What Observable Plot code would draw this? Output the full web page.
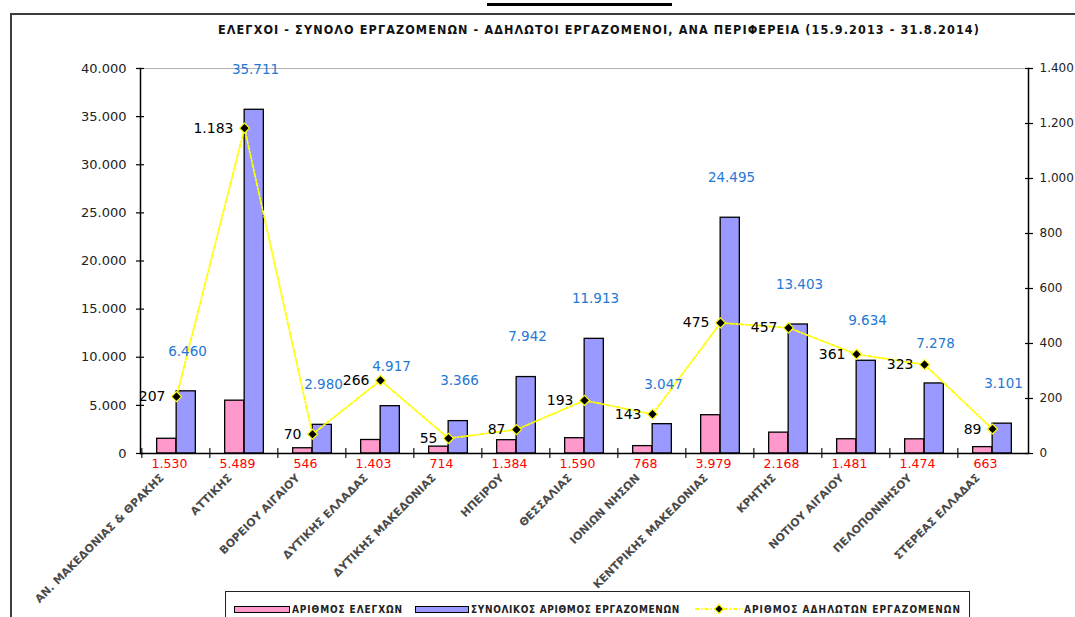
<!DOCTYPE html>
<html><head><meta charset="utf-8">
<script src="https://cdn.jsdelivr.net/npm/d3@7"></script>
<script src="https://cdn.jsdelivr.net/npm/@observablehq/plot@0.6"></script>
<style>
html,body{margin:0;padding:0;background:#fff;overflow:hidden;}
#wrap{position:relative;width:1075px;height:617px;overflow:hidden;font-family:"DejaVu Sans",sans-serif;background:#fff;}
#frame{position:absolute;left:10px;top:13px;width:1200px;height:800px;border:2px solid #3c3c3c;box-sizing:border-box;}
#topbar{position:absolute;left:487px;top:3px;width:185px;height:3px;background:#000;}
#chart{position:absolute;left:0;top:0;}
#title{position:absolute;left:218px;top:22px;white-space:nowrap;font-family:"DejaVu Sans Condensed","DejaVu Sans",sans-serif;font-weight:bold;font-size:12.5px;line-height:16px;color:#111;}
#legendBox{position:absolute;left:225px;top:591px;width:745px;height:60px;border:1.5px solid #222;box-sizing:border-box;}
.ltext{position:absolute;top:604px;white-space:nowrap;font-family:"DejaVu Sans Condensed","DejaVu Sans",sans-serif;font-weight:bold;font-size:10px;line-height:12px;color:#222;}
.lsw{position:absolute;top:606px;height:5px;border:1px solid #000;box-sizing:content-box;}
</style>
</head><body>
<div id="wrap">
  <div id="frame"></div>
  <div id="topbar"></div>
  <div id="chart"></div>
  <span id="title"></span>
  <div id="legendBox"></div>
</div>
<script>
// ---- data ----
const titleText = "ΕΛΕΓΧΟΙ - ΣΥΝΟΛΟ ΕΡΓΑΖΟΜΕΝΩΝ - ΑΔΗΛΩΤΟΙ ΕΡΓΑΖΟΜΕΝΟΙ, ΑΝΑ ΠΕΡΙΦΕΡΕΙΑ (15.9.2013 - 31.8.2014)";
const regions = ["ΑΝ. ΜΑΚΕΔΟΝΙΑΣ & ΘΡΑΚΗΣ","ΑΤΤΙΚΗΣ","ΒΟΡΕΙΟΥ ΑΙΓΑΙΟΥ","ΔΥΤΙΚΗΣ ΕΛΛΑΔΑΣ","ΔΥΤΙΚΗΣ ΜΑΚΕΔΟΝΙΑΣ","ΗΠΕΙΡΟΥ","ΘΕΣΣΑΛΙΑΣ","ΙΟΝΙΩΝ ΝΗΣΩΝ","ΚΕΝΤΡΙΚΗΣ ΜΑΚΕΔΟΝΙΑΣ","ΚΡΗΤΗΣ","ΝΟΤΙΟΥ ΑΙΓΑΙΟΥ","ΠΕΛΟΠΟΝΝΗΣΟΥ","ΣΤΕΡΕΑΣ ΕΛΛΑΔΑΣ"];
const checks = [1530,5489,546,1403,714,1384,1590,768,3979,2168,1481,1474,663];
const employees = [6460,35711,2980,4917,3366,7942,11913,3047,24495,13403,9634,7278,3101];
const undeclared = [207,1183,70,266,55,87,193,143,475,457,361,323,89];
const leftTicks = [0,5000,10000,15000,20000,25000,30000,35000,40000];
const rightTicks = [0,200,400,600,800,1000,1200,1400];
const seriesNames = ["ΑΡΙΘΜΟΣ ΕΛΕΓΧΩΝ","ΣΥΝΟΛΙΚΟΣ ΑΡΙΘΜΟΣ ΕΡΓΑΖΟΜΕΝΩΝ","ΑΡΙΘΜΟΣ ΑΔΗΛΩΤΩΝ ΕΡΓΑΖΟΜΕΝΩΝ"];
const colors = {checks:"#ff99cc", employees:"#9999ff", undeclared:"#ffff00"};

// ---- layout ----
const W = 1075, H = 617, mL = 140, mR = 47, mT = 68, mB = 164;
const bw = (W - mL - mR) / regions.length;
const barW = 19.5;
const leftMax = 40000, rightMax = 1400, k = leftMax / rightMax;
const tickHalf = leftMax * 0.013; // half-length of the crossing category ticks, in y units

const loc = d3.formatLocale({decimal:",", thousands:".", grouping:[3], currency:["","€"]});
const fmt = loc.format(",d");
const blank = () => "";

const data = regions.map((r,i)=>({region:r, checks:checks[i], employees:employees[i], undeclared:undeclared[i]}));

const chart = Plot.plot({
  width: W, height: H,
  marginLeft: mL, marginRight: mR, marginTop: mT, marginBottom: mB,
  x: {type:"band", domain: regions, padding: 0, axis: null},
  y: {domain: [0, leftMax], axis: null},
  style: {fontFamily: "DejaVu Sans", background: "transparent", overflow: "visible"},
  marks: [
    Plot.ruleY([leftMax], {stroke:"#b4b4b4", strokeWidth:1}),
    Plot.barY(data, {x:"region", y:"checks", fill:colors.checks, stroke:"#000", strokeWidth:1.3, insetLeft: bw/2 - barW, insetRight: bw/2}),
    Plot.barY(data, {x:"region", y:"employees", fill:colors.employees, stroke:"#000", strokeWidth:1.3, insetLeft: bw/2, insetRight: bw/2 - barW}),
    Plot.line(data, {x:"region", y: d => d.undeclared * k, stroke:colors.undeclared, strokeWidth:1.8, strokeDasharray:"4,2,1.5,2"}),
    Plot.dot(data, {x:"region", y: d => d.undeclared * k, symbol:"diamond2", r:4.5, fill:"#000", stroke:colors.undeclared, strokeWidth:1.2}),
    Plot.ruleY([0], {stroke:"#000", strokeWidth:1.5}),
    Plot.frame({anchor:"left", stroke:"#000", strokeWidth:1.5}),
    Plot.frame({anchor:"right", stroke:"#000", strokeWidth:1.5}),
    // crossing tick marks (no labels)
    Plot.axisY({anchor:"left", ticks:leftTicks, tickSize:8, dx:4, tickFormat:blank, stroke:"#000", strokeWidth:1.2, label:null}),
    Plot.axisY({anchor:"right", ticks:rightTicks.map(v=>v*k), tickSize:8, dx:-4, tickFormat:blank, stroke:"#000", strokeWidth:1.2, label:null}),
    // category boundary ticks: thin slivers at the left edge of each band
    Plot.barY(regions, {x:d=>d, y1:-tickHalf, y2:tickHalf, insetLeft:-0.7, insetRight:bw - 0.7, fill:"#000"}),
    // tick labels
    Plot.axisY({anchor:"left", ticks:leftTicks, tickSize:0, tickPadding:14, tickFormat:fmt, fontSize:13, fill:"#222", label:null}),
    Plot.axisY({anchor:"right", ticks:rightTicks.map(v=>v*k), tickSize:0, tickPadding:11, tickFormat:d=>fmt(Math.round(d/k)), fontSize:12, fill:"#222", label:null}),
    // data labels
    Plot.text(data, {x:"region", frameAnchor:"bottom", text:d=>fmt(d.checks), fill:"#ff0000", fontSize:12.5, dx:-7, dy:14.5}),
    Plot.text(data, {x:"region", y:"employees", text:d=>fmt(d.employees), fill:"#1f78d4", fontSize:13.5, dx:11, dy:-40}),
    Plot.text(data, {x:"region", y:d=>d.undeclared*k, text:d=>fmt(d.undeclared), fill:"#000", fontSize:14, textAnchor:"end", dx:-11}),
    Plot.text(regions, {x:d=>d, frameAnchor:"bottom", text:d=>d, rotate:-45, textAnchor:"end", dx:-12, dy:25, fontSize:11, fontWeight:"bold", fill:"#4a4a4a"})
  ]
});
document.getElementById("chart").appendChild(chart);

// ---- title ----
function fitWidth(el, target){
  el.style.letterSpacing = "0px";
  const w = el.getBoundingClientRect().width;
  const n = el.textContent.length;
  el.style.letterSpacing = ((target - w) / n) + "px";
}
const t = document.getElementById("title");
t.textContent = titleText;
fitWidth(t, 762);

// ---- legend ----
const wrap = document.getElementById("wrap");
const legendItems = [
  {name: seriesNames[0], kind:"bar", color: colors.checks, sw:[234,56], tx:[292,111]},
  {name: seriesNames[1], kind:"bar", color: colors.employees, sw:[415,54], tx:[471,209]},
  {name: seriesNames[2], kind:"line", color: colors.undeclared, sw:[695,48], tx:[744,217]}
];
legendItems.forEach(it => {
  if (it.kind === "bar") {
    const s = document.createElement("div");
    s.className = "lsw";
    s.style.left = it.sw[0] + "px";
    s.style.width = (it.sw[1]-2) + "px";
    s.style.background = it.color;
    wrap.appendChild(s);
  } else {
    const ns = "http://www.w3.org/2000/svg";
    const svg = document.createElementNS(ns, "svg");
    svg.setAttribute("width", it.sw[1]); svg.setAttribute("height", 12);
    svg.style.position = "absolute"; svg.style.left = it.sw[0] + "px"; svg.style.top = "603px";
    const ln = document.createElementNS(ns, "line");
    ln.setAttribute("x1", 0); ln.setAttribute("x2", it.sw[1]); ln.setAttribute("y1", 6); ln.setAttribute("y2", 6);
    ln.setAttribute("stroke", it.color); ln.setAttribute("stroke-width", 2); ln.setAttribute("stroke-dasharray", "4,2,1.5,2");
    svg.appendChild(ln);
    const dm = document.createElementNS(ns, "path");
    const c = it.sw[1]/2;
    dm.setAttribute("d", `M${c},1.5L${c+4.5},6L${c},10.5L${c-4.5},6Z`);
    dm.setAttribute("fill", "#000"); dm.setAttribute("stroke", it.color); dm.setAttribute("stroke-width", 1.2);
    svg.appendChild(dm);
    wrap.appendChild(svg);
  }
  const tx = document.createElement("span");
  tx.className = "ltext";
  tx.style.left = it.tx[0] + "px";
  tx.textContent = it.name;
  wrap.appendChild(tx);
  fitWidth(tx, it.tx[1]);
});
</script>
</body></html>
